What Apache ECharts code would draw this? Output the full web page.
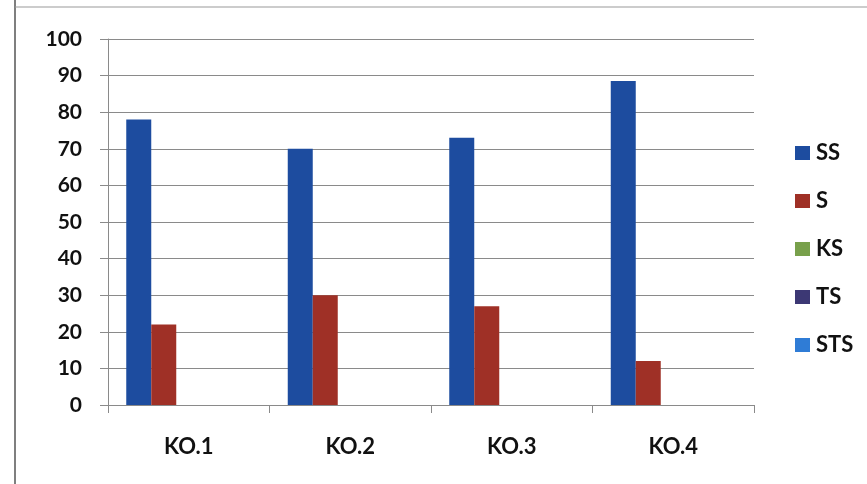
<!DOCTYPE html>
<html>
<head>
<meta charset="utf-8">
<script src="https://cdn.jsdelivr.net/npm/echarts@6/dist/echarts.min.js"></script>
<style>
  html, body { margin: 0; padding: 0; background: #ffffff; }
  #chart { width: 867px; height: 484px; }
</style>
</head>
<body>
<div id="chart"></div>
<script>
// Categories and series values
const categories = ['KO.1', 'KO.2', 'KO.3', 'KO.4'];
const seriesNames = ['SS', 'S', 'KS', 'TS', 'STS'];
const valuesSS = [78, 70, 73, 88.5];
const valuesS = [22, 30, 27, 12];
const valuesKS = [0, 0, 0, 0];
const valuesTS = [0, 0, 0, 0];
const valuesSTS = [0, 0, 0, 0];
const yTicks = { min: 0, max: 100, interval: 10 };

const colors = ['#1d4c9f', '#9f3026', '#78a04b', '#3c3874', '#2f7cd6'];
const allValues = [valuesSS, valuesS, valuesKS, valuesTS, valuesSTS];

const font = 'Lato, "Open Sans", sans-serif';
const chart = echarts.init(document.getElementById('chart'), null, { renderer: 'canvas' });

chart.setOption({
  backgroundColor: '#ffffff',
  animation: false,
  color: colors,
  grid: { left: 108, right: 113, top: 39, bottom: 79, containLabel: false },
  legend: {
    orient: 'vertical',
    left: 795,
    top: 142,
    padding: 0,
    itemWidth: 15,
    itemHeight: 14,
    itemGap: 26,
    icon: 'rect',
    textStyle: { fontFamily: font, fontSize: 22, fontWeight: 'bold', color: '#111', lineHeight: 21, padding: [0, 0, 0, 1] },
    data: seriesNames
  },
  xAxis: {
    type: 'category',
    data: categories,
    axisLine: { lineStyle: { color: '#8a8a8a', width: 1 } },
    axisTick: { show: true, length: 8, lineStyle: { color: '#8a8a8a' } },
    axisLabel: { margin: 31, fontFamily: font, fontSize: 22, fontWeight: 'bold', color: '#111' },
    splitLine: { show: false }
  },
  yAxis: {
    type: 'value',
    min: yTicks.min,
    max: yTicks.max,
    interval: yTicks.interval,
    axisLine: { show: true, lineStyle: { color: '#8a8a8a', width: 1 } },
    axisTick: { show: true, length: 8, lineStyle: { color: '#8a8a8a' } },
    axisLabel: { margin: 26, fontFamily: font, fontSize: 21, fontWeight: 'bold', color: '#111' },
    splitLine: { show: true, lineStyle: { color: '#8a8a8a', width: 1 } }
  },
  series: seriesNames.map((name, i) => ({
    name: name,
    type: 'bar',
    data: allValues[i],
    barWidth: 25,
    barGap: '0%',
    itemStyle: { color: colors[i] }
  })),
  graphic: [
    { type: 'line', shape: { x1: 15, y1: 0, x2: 15, y2: 484 }, style: { stroke: '#555', lineWidth: 1.5 } },
    { type: 'line', shape: { x1: 15, y1: 7, x2: 867, y2: 7 }, style: { stroke: '#999', lineWidth: 1 } }
  ]
});
</script>
</body>
</html>
